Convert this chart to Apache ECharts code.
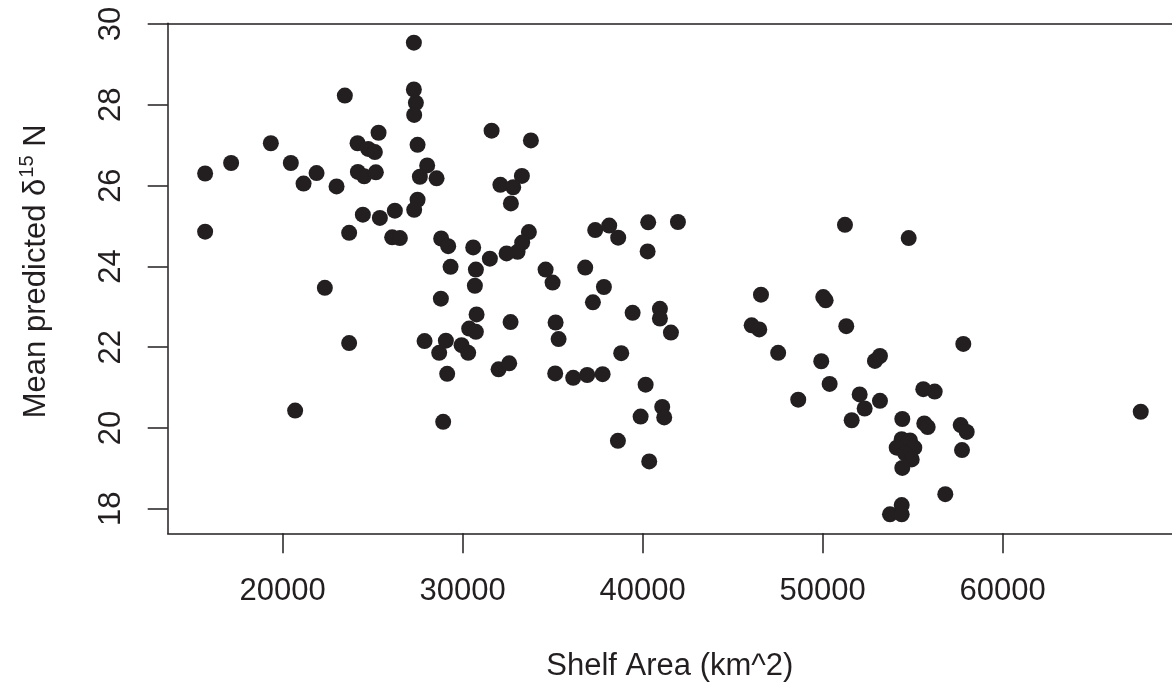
<!DOCTYPE html>
<html>
<head>
<meta charset="utf-8">
<script src="https://cdn.jsdelivr.net/npm/echarts@6/dist/echarts.min.js"></script>
<style>
html,body{margin:0;padding:0;background:#fff;}
#chart{width:1172px;height:691px;}
</style>
</head>
<body>
<div id="chart"></div>
<script>
// Shelf area (km^2)
const shelfArea = [
  27295, 23461, 27295, 27406, 27312, 31612, 25333, 19350, 24167, 27500,
  24756, 25128, 17144, 20461, 28034, 15700, 21889, 24184, 24534, 25184,
  27628, 28556, 32100, 21167, 23000, 27500, 27312, 24461, 25406, 26239,
  15700, 23700, 26089, 26517, 28812, 29201, 30590, 31517, 29334, 30740,
  30684, 22350, 28795, 30778, 30367, 30740, 23700, 27889, 29073, 28701,
  29945, 30312, 29145, 32000, 20700, 28923, 33795, 33295, 32812, 32684,
  33684, 33312, 33056, 32445, 37368, 38146, 38645, 40312, 41962, 40279,
  34612, 35001, 36812, 37851, 37240, 39446, 40962, 40962, 46575, 32667,
  35168, 41573, 46057, 46480, 47530, 35334, 32590, 35145, 36146, 36923,
  37779, 38812, 40168, 41090, 39890, 41201, 38629, 40368, 51241, 54781,
  50034, 50168, 51313, 57814, 49924, 52907, 53185, 50390, 48645, 52057,
  52334, 53185, 51613, 55592, 56225, 54425, 55647, 55835, 57669, 58003,
  57742, 54392, 54853, 55092, 54114, 54576, 54948, 54425, 56814, 54392,
  53741, 54392, 67670
];
// Mean predicted delta 15 N
const meanD15N = [
  29.54, 28.23, 28.38, 28.05, 27.75, 27.36, 27.31, 27.05, 27.05, 27.01,
  26.91, 26.83, 26.56, 26.56, 26.50, 26.30, 26.31, 26.34, 26.23, 26.33,
  26.22, 26.18, 26.02, 26.05, 25.98, 25.65, 25.40, 25.28, 25.20, 25.38,
  24.86, 24.83, 24.72, 24.70, 24.69, 24.50, 24.47, 24.19, 23.99, 23.92,
  23.52, 23.47, 23.20, 22.81, 22.46, 22.38, 22.10, 22.15, 22.16, 21.86,
  22.05, 21.86, 21.34, 21.45, 20.43, 20.15, 27.12, 26.24, 25.96, 25.56,
  24.85, 24.59, 24.36, 24.32, 24.90, 25.01, 24.71, 25.09, 25.10, 24.37,
  23.92, 23.60, 23.97, 23.49, 23.11, 22.85, 22.95, 22.71, 23.30, 22.62,
  22.61, 22.36, 22.54, 22.44, 21.86, 22.20, 21.60, 21.35, 21.24, 21.31,
  21.33, 21.85, 21.07, 20.52, 20.28, 20.26, 19.68, 19.17, 25.03, 24.70,
  23.24, 23.16, 22.52, 22.08, 21.65, 21.66, 21.78, 21.09, 20.70, 20.83,
  20.48, 20.67, 20.19, 20.96, 20.90, 20.22, 20.11, 20.02, 20.07, 19.90,
  19.45, 19.72, 19.69, 19.51, 19.51, 19.37, 19.22, 19.01, 18.36, 18.09,
  17.86, 17.86, 20.40
];
const xTicks = [20000, 30000, 40000, 50000, 60000];
const yTicks = [18, 20, 22, 24, 26, 28, 30];

const ink = '#231f20';
const font = "'Liberation Sans', Arial, Helvetica, sans-serif";
const X_MIN = 13621, X_MAX = 69406;

const points = shelfArea.map((x, i) => [x, meanD15N[i]]);

const chart = echarts.init(document.getElementById('chart'), null, {renderer: 'canvas'});
chart.setOption({
  animation: false,
  backgroundColor: '#ffffff',
  grid: {
    left: 167.7, top: 23.3, right: 0, bottom: 157.7,
    show: false
  },
  xAxis: [{
    type: 'value',
    position: 'bottom',
    min: X_MIN, max: X_MAX,
    splitLine: {show: false},
    axisLine: {show: true, onZero: false, lineStyle: {color: ink, width: 1.5}},
    axisTick: {show: true, length: 20, inside: false, customValues: xTicks, lineStyle: {color: ink, width: 1.5}},
    axisLabel: {show: true, customValues: xTicks, margin: 43, fontSize: 31, fontFamily: font, color: ink, formatter: v => String(v)},
    name: 'Shelf Area (km^2)',
    nameLocation: 'middle',
    nameGap: 118,
    nameTextStyle: {fontSize: 31, fontFamily: font, color: ink}
  }, {
    type: 'value',
    position: 'top',
    min: X_MIN, max: X_MAX,
    splitLine: {show: false},
    axisLine: {show: true, onZero: false, lineStyle: {color: ink, width: 1.5}},
    axisTick: {show: false},
    axisLabel: {show: false}
  }],
  yAxis: {
    type: 'value',
    min: 17.39, max: 30.02,
    splitLine: {show: false},
    axisLine: {show: true, onZero: false, lineStyle: {color: ink, width: 1.5}},
    axisTick: {show: true, length: 20, inside: false, customValues: yTicks, lineStyle: {color: ink, width: 1.5}},
    axisLabel: {show: true, customValues: yTicks, rotate: 90, margin: 41, fontSize: 31, fontFamily: font, color: ink},
    name: '{a|Mean predicted δ}{s|15}{a| N}',
    nameLocation: 'middle',
    nameGap: 116,
    nameTextStyle: {
      fontSize: 31, fontFamily: font, color: ink,
      padding: [0, 0, 0, 14],
      rich: {
        a: {fontSize: 31, fontFamily: font, color: ink, lineHeight: 34, verticalAlign: 'bottom'},
        s: {fontSize: 20, fontFamily: font, color: ink, lineHeight: 34, verticalAlign: 'top', padding: [0, 0, 0, 1]}
      }
    }
  },
  series: [{
    type: 'scatter',
    xAxisIndex: 0,
    data: points,
    symbol: 'circle',
    symbolSize: 16,
    itemStyle: {color: ink, opacity: 1},
    emphasis: {disabled: true}
  }]
});
</script>
</body>
</html>
